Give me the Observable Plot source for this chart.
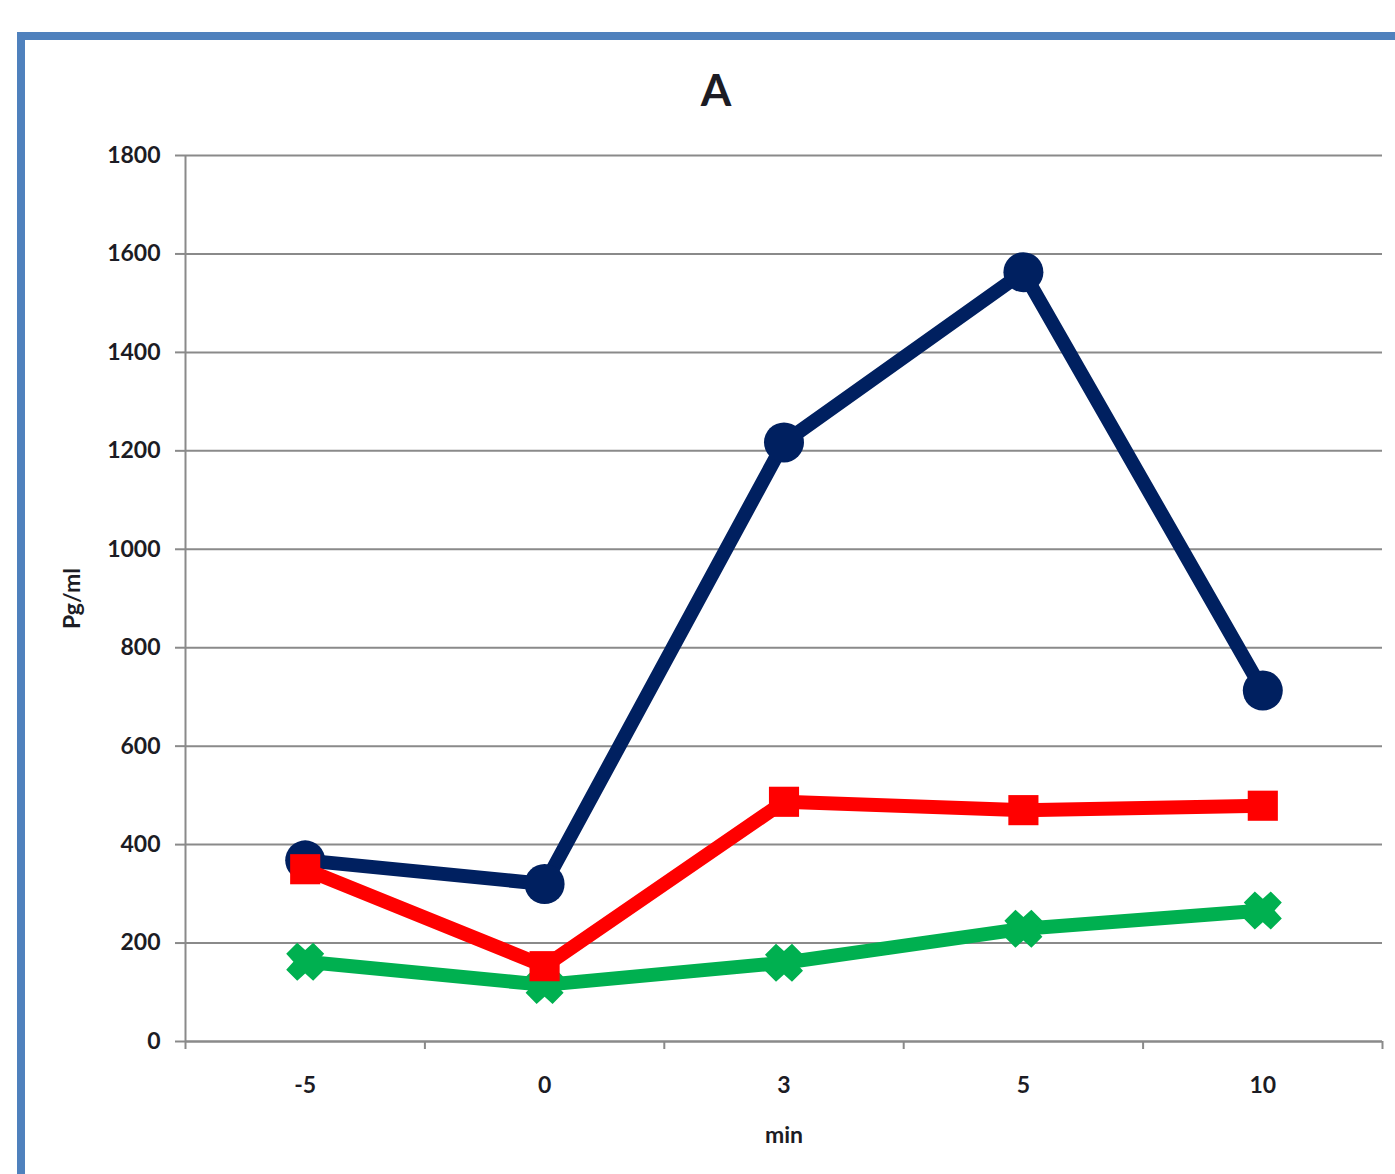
<!DOCTYPE html>
<html>
<head>
<meta charset="utf-8">
<script src="https://cdn.jsdelivr.net/npm/d3@7"></script>
<script src="https://cdn.jsdelivr.net/npm/@observablehq/plot@0.6"></script>
<style>
  html, body { margin: 0; padding: 0; background: #fff; overflow: hidden; }
  #wrap { position: relative; width: 1395px; height: 1174px; }
  #border {
    position: absolute; left: 17px; top: 32px;
    width: 2000px; height: 2000px;
    border: 8px solid #4f81bd; box-sizing: border-box;
  }
  #chart { position: absolute; left: 0; top: 0; }
  #chart svg { background: transparent; }
</style>
</head>
<body>
<div id="wrap">
  <div id="border"></div>
  <div id="chart"></div>
</div>
<script>
// Time points (minutes) and measured concentrations (pg/ml)
const minutes = ["-5", "0", "3", "5", "10"];
const navySeries = [368, 320, 1217, 1563, 713];
const redSeries = [350, 153, 487, 470, 479];
const greenSeries = [162, 115, 160, 229, 266];
const yTicks = [0, 200, 400, 600, 800, 1000, 1200, 1400, 1600, 1800];

const idx = minutes.map((_, i) => i);
const boundaries = d3.range(minutes.length + 1).map(i => i - 0.5);
const xDomain = [boundaries[0], boundaries[boundaries.length - 1]];

const rows = (values) => values.map((v, i) => ({i, v}));

// Thick "x" marker
const crossSymbol = {
  draw(ctx, size) {
    const h = Math.sqrt(size / Math.PI);
    const n = h * 0.62, b = h * 0.58;
    const pts = [
      [0, -n], [h - b, -h], [h, -(h - b)], [n, 0], [h, h - b], [h - b, h],
      [0, n], [-(h - b), h], [-h, h - b], [-n, 0], [-h, -(h - b)], [-(h - b), -h]
    ];
    ctx.moveTo(pts[0][0], pts[0][1]);
    for (let k = 1; k < pts.length; k++) ctx.lineTo(pts[k][0], pts[k][1]);
    ctx.closePath();
  }
};

const gray = "#8a8a8a";
const ink = "#1c1c24";
const font = "Lato, 'Open Sans', sans-serif";

const chart = Plot.plot({
  width: 1395,
  height: 1174,
  marginLeft: 185,
  marginRight: 13,
  marginTop: 155,
  marginBottom: 133,
  style: {fontFamily: font, fontWeight: "bold", fontSize: "23px", color: ink, background: "transparent"},
  x: {type: "linear", domain: xDomain},
  y: {type: "linear", domain: [0, 1800]},
  marks: [
    Plot.gridY(yTicks, {stroke: gray, strokeOpacity: 1, strokeWidth: 2}),
    Plot.axisY(yTicks, {tickSize: 10, tickPadding: 15, tickFormat: d3.format("d"), stroke: gray, strokeWidth: 2, label: null, fill: ink, fontSize: 23, fontWeight: "bold"}),
    Plot.ruleX([xDomain[0]], {y1: 0, y2: 1800, stroke: gray, strokeWidth: 2}),
    Plot.ruleY([0], {stroke: gray, strokeWidth: 2}),
    Plot.axisX(boundaries, {tickSize: 8, tickFormat: () => "", stroke: gray, strokeWidth: 2, label: null}),
    Plot.axisX(idx, {tickSize: 0, tickPadding: 35, tickFormat: i => minutes[i], label: null, fill: ink, fontSize: 23, fontWeight: "bold"}),

    // navy series
    Plot.line(rows(navySeries), {x: "i", y: "v", stroke: "#002060", strokeWidth: 14, strokeLinejoin: "round"}),
    Plot.dot(rows(navySeries), {x: "i", y: "v", r: 20, fill: "#002060", stroke: "none"}),
    // green series
    Plot.line(rows(greenSeries), {x: "i", y: "v", stroke: "#00b050", strokeWidth: 14, strokeLinejoin: "round"}),
    Plot.dot(rows(greenSeries), {x: "i", y: "v", r: 19, symbol: crossSymbol, fill: "#00b050", stroke: "none"}),
    // red series
    Plot.line(rows(redSeries), {x: "i", y: "v", stroke: "#ff0000", strokeWidth: 14, strokeLinejoin: "round"}),
    Plot.dot(rows(redSeries), {x: "i", y: "v", r: 17, symbol: "square", fill: "#ff0000", stroke: "none"}),

    // titles
    Plot.text(["A"], {frameAnchor: "top", dx: -68, dy: -81, fontSize: 44, fontWeight: "bold", fill: ink}),
    Plot.text(["Pg/ml"], {frameAnchor: "left", textAnchor: "middle", dx: -113, rotate: -90, fontSize: 23, fontWeight: "bold", fill: ink}),
    Plot.text(["min"], {frameAnchor: "bottom", dy: 101, fontSize: 23, fontWeight: "bold", fill: ink})
  ]
});

document.getElementById("chart").appendChild(chart);
</script>
</body>
</html>
